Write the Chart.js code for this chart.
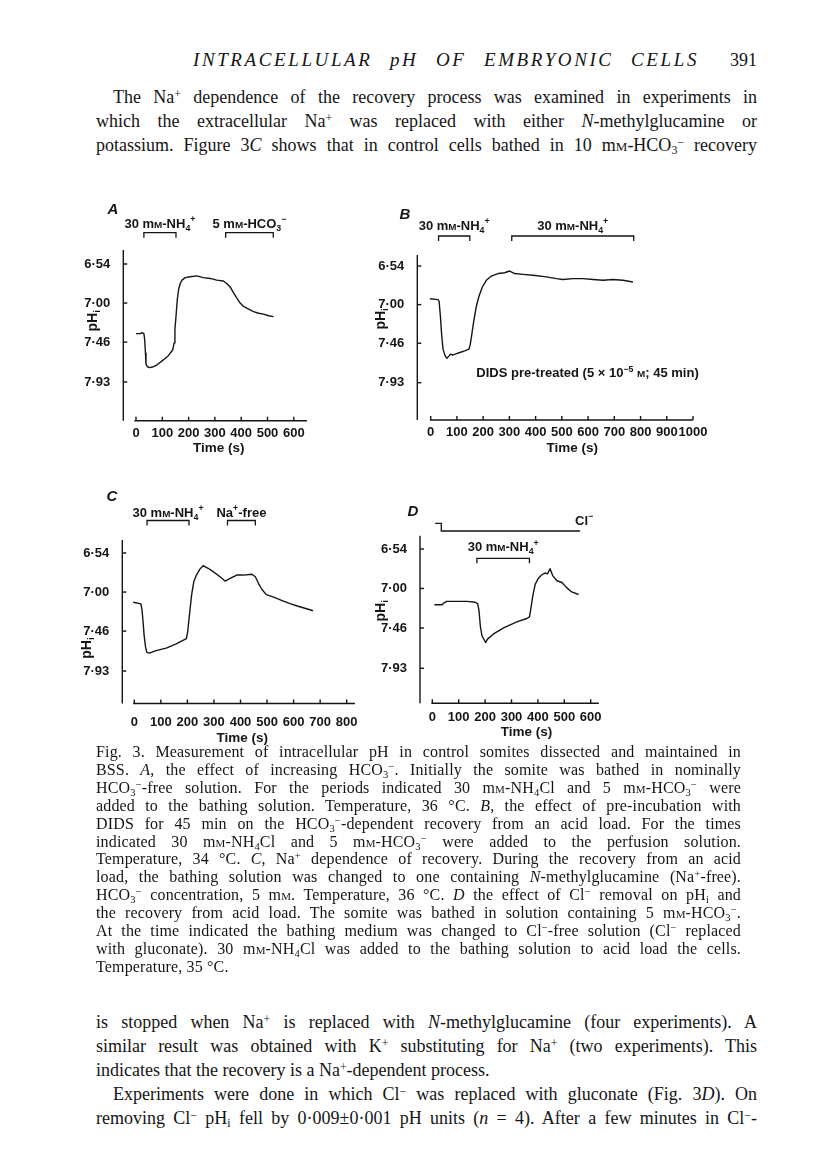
<!DOCTYPE html>
<html>
<head>
<meta charset="utf-8">
<title>Intracellular pH of embryonic cells - Fig. 3</title>
<script src="https://cdn.jsdelivr.net/npm/chart.js@4.4.1/dist/chart.umd.min.js"></script>
<style>
  body { margin: 0; background: #fff; }
  #page { position: relative; width: 816px; height: 1173px; overflow: hidden; color: #151515;
          font-family: "Liberation Serif", "DejaVu Serif", serif; }
  #page canvas { position: absolute; }
  .ln { position: absolute; white-space: nowrap; }
  .body { font-size: 18px; line-height: 24px; }
  .cap { font-size: 16px; line-height: 18px; letter-spacing: 0.15px; }
  .head { font-size: 19px; line-height: 22px; font-style: italic; letter-spacing: 2.6px; }
  .sc { font-variant: small-caps; }
  sub, sup { font-size: 0.66em; line-height: 0; }
  sub { vertical-align: -0.25em; }
  sup { vertical-align: 0.45em; }
</style>
</head>
<body>
<div id="page"></div>
<script>
const INK = '#151515';
const page = document.getElementById('page');

// pH tick values shared by all four panels (axis is inverted: 6.54 at the top)
const yTicks = [6.54, 7.00, 7.46, 7.93];
const yTickLabels = ['6·54', '7·00', '7·46', '7·93'];

// A - effect of HCO3-
const xTicksA = [0, 100, 200, 300, 400, 500, 600];
const timeA = [0, 15, 24, 30, 33, 36, 38, 43, 53, 66, 79, 104, 123, 140, 145, 148, 152, 157, 162, 168,
  175, 187, 206, 231, 256, 282, 307, 332, 345, 358, 371, 383, 396, 409, 421, 434, 447, 466, 485, 504, 523];
const phA = [7.36, 7.36, 7.35, 7.36, 7.43, 7.59, 7.72, 7.75, 7.76, 7.75, 7.73, 7.67, 7.62, 7.55, 7.47, 7.31, 7.16, 6.96, 6.84, 6.77,
  6.73, 6.70, 6.69, 6.68, 6.70, 6.71, 6.73, 6.74, 6.77, 6.81, 6.88, 6.94, 7.00, 7.04, 7.06, 7.08, 7.10, 7.12, 7.13, 7.15, 7.16];
const bracketsA = [[30, 152], [341, 522]];
const labelsA = ['30 m{m}-NH_(4)^(+)', '5 m{m}-HCO_(3)^(−)'];

// B - DIDS pre-treated
const xTicksB = [0, 100, 200, 300, 400, 500, 600, 700, 800, 900, 1000];
const timeB = [-3, 28, 32, 37, 42, 47, 55, 62, 70, 75, 83, 93, 111, 130, 146, 151, 156, 164, 174, 184,
  197, 212, 231, 257, 282, 301, 320, 352, 390, 441, 479, 504, 543, 581, 619, 657, 695, 733, 771];
const phB = [6.93, 6.94, 6.96, 7.14, 7.37, 7.53, 7.61, 7.64, 7.61, 7.59, 7.60, 7.59, 7.57, 7.55, 7.53, 7.47, 7.37, 7.20, 7.02, 6.90,
  6.79, 6.71, 6.66, 6.63, 6.62, 6.60, 6.63, 6.64, 6.65, 6.67, 6.69, 6.70, 6.69, 6.69, 6.70, 6.71, 6.70, 6.71, 6.73];
const bracketsB = [[30, 149], [309, 774]];
const labelsB = ['30 m{m}-NH_(4)^(+)', '30 m{m}-NH_(4)^(+)'];
const noteB = 'DIDS pre-treated (5 × 10^(−5) {m}; 45 min)';

// C - Na+ dependence
const xTicksC = [0, 100, 200, 300, 400, 500, 600, 700, 800];
const timeC = [-4, 25, 29, 33, 37, 42, 47, 57, 82, 120, 158, 196, 201, 209, 216, 224, 234, 247, 259, 278,
  297, 323, 342, 361, 386, 411, 443, 456, 468, 481, 497, 525, 557, 589, 620, 652, 673];
const phC = [7.12, 7.14, 7.21, 7.35, 7.51, 7.64, 7.71, 7.72, 7.69, 7.66, 7.61, 7.55, 7.47, 7.23, 7.03, 6.88, 6.80, 6.73, 6.69, 6.72,
  6.76, 6.82, 6.87, 6.84, 6.80, 6.80, 6.79, 6.82, 6.90, 6.97, 7.03, 7.06, 7.10, 7.14, 7.17, 7.20, 7.22];
const bracketsC = [[48, 206], [351, 456]];
const labelsC = ['30 m{m}-NH_(4)^(+)', 'Na^(+)-free'];

// D - Cl- removal
const xTicksD = [0, 100, 200, 300, 400, 500, 600];
const timeD = [8, 37, 43, 55, 93, 131, 163, 172, 177, 182, 188, 197, 202, 209, 232, 270, 320, 358, 368, 373,
  381, 390, 402, 415, 427, 436, 446, 456, 472, 491, 509, 528, 554];
const phD = [7.19, 7.19, 7.17, 7.15, 7.15, 7.15, 7.16, 7.18, 7.26, 7.44, 7.55, 7.60, 7.63, 7.59, 7.53, 7.46, 7.39, 7.35, 7.33, 7.24,
  7.08, 6.95, 6.88, 6.84, 6.82, 6.83, 6.77, 6.85, 6.91, 6.93, 6.99, 7.04, 7.07];
const bracketsD = [[169, 368]];
const labelsD = ['30 m{m}-NH_(4)^(+)'];
const clTimesD = [11, 34, 34, 560];
const clLevelD = [1, 1, 0, 0];

// where each panel sits on the page
const panels = [
  { time: timeA, ph: phA, xTicks: xTicksA, brackets: bracketsA, labels: labelsA, letter: 'A',
    g: { axisX: 123.3, zeroX: 136, pps: 0.263, lineFrom: -6, xEnd: 650, topY: 250, bottomY: 420.7, y654: 264, y793: 382,
         tickGap: 11.6, titleGap: 26.5, titleAt: 315, letterAt: [113, 210], ylab: [-31, 7.21], brY: 232.7, labY: 223 } },
  { time: timeB, ph: phB, xTicks: xTicksB, brackets: bracketsB, labels: labelsB, letter: 'B', note: noteB,
    g: { axisX: 417.3, zeroX: 430.7, pps: 0.2623, lineFrom: -3, xEnd: 1000, topY: 255, bottomY: 420, y654: 266, y793: 382.7,
         tickGap: 11.7, titleGap: 27.3, titleAt: 540, letterAt: [405, 215], ylab: [-37, 7.17], brY: 236, labY: 225,
         noteAt: [598, 7.81] } },
  { time: timeC, ph: phC, xTicks: xTicksC, brackets: bracketsC, labels: labelsC, letter: 'C',
    g: { axisX: 122.3, zeroX: 134.3, pps: 0.2655, lineFrom: -4, xEnd: 831, topY: 540, bottomY: 703.5, y654: 553, y793: 671,
         tickGap: 18.2, titleGap: 34, titleAt: 407, letterAt: [112, 497], ylab: [-36, 7.66], brY: 520.5, labY: 512 } },
  { time: timeD, ph: phD, xTicks: xTicksD, brackets: bracketsD, labels: labelsD, letter: 'D', cl: true,
    g: { axisX: 420, zeroX: 432.3, pps: 0.264, lineFrom: -3, xEnd: 631, topY: 535.7, bottomY: 703.3, y654: 549, y793: 668.3,
         tickGap: 13.4, titleGap: 27.4, titleAt: 357, letterAt: [413, 512], ylab: [-40, 7.26], brY: 558.3, labY: 546.7,
         clTop: 523.3, clBot: 531, clLabel: [575, 520] } }
];

// text with _(sub), ^(sup) and {smallcaps}
function drawRich(ctx, src, x, y, size, weight, align) {
  const parts = [];
  src.replace(/\^\(([^)]*)\)|_\(([^)]*)\)|\{([^}]*)\}|([^^_{]+)/g, (m, sup, sub, sc, txt) => {
    if (sup !== undefined) parts.push({ t: sup, s: size * 0.68, dy: -size * 0.42 });
    else if (sub !== undefined) parts.push({ t: sub, s: size * 0.68, dy: size * 0.22 });
    else if (sc !== undefined) parts.push({ t: sc.toUpperCase(), s: size * 0.76, dy: 0 });
    else parts.push({ t: txt, s: size, dy: 0 });
    return m;
  });
  let total = 0;
  parts.forEach(p => {
    ctx.font = weight + ' ' + p.s + 'px "Liberation Sans", Arial, sans-serif';
    p.w = ctx.measureText(p.t).width;
    total += p.w;
  });
  let cx = align === 'center' ? x - total / 2 : align === 'right' ? x - total : x;
  const base = y + size * 0.36;
  ctx.textAlign = 'left';
  ctx.textBaseline = 'alphabetic';
  parts.forEach(p => {
    ctx.font = weight + ' ' + p.s + 'px "Liberation Sans", Arial, sans-serif';
    ctx.fillText(p.t, cx, base + p.dy);
    cx += p.w;
  });
}

function makePaper(panel, ox, oy) {
  const g = panel.g;
  return {
    id: 'paper' + panel.letter,
    afterDraw(chart) {
      const { ctx, chartArea: ca, scales: { x, y } } = chart;
      const seg = (x1, y1, x2, y2) => { ctx.beginPath(); ctx.moveTo(x1, y1); ctx.lineTo(x2, y2); ctx.stroke(); };
      ctx.save();
      ctx.strokeStyle = INK;
      ctx.fillStyle = INK;
      ctx.lineWidth = 1.4;
      // y axis with inward ticks
      seg(ca.left, ca.top, ca.left, ca.bottom);
      yTicks.forEach(v => { const py = y.getPixelForValue(v); seg(ca.left, py, ca.left + 4, py); });
      // x axis starts at t = 0, ticks point up, labels below
      seg(x.getPixelForValue(g.lineFrom), ca.bottom, x.getPixelForValue(g.xEnd), ca.bottom);
      panel.xTicks.forEach(v => {
        const px = x.getPixelForValue(v);
        seg(px, ca.bottom, px, ca.bottom - 4);
        drawRich(ctx, String(v), px, ca.bottom + g.tickGap, 13, 'bold', 'center');
      });
      // axis titles
      drawRich(ctx, 'Time (s)', x.getPixelForValue(g.titleAt), ca.bottom + g.titleGap, 13.5, 'bold', 'center');
      ctx.save();
      ctx.translate(ca.left + g.ylab[0], y.getPixelForValue(g.ylab[1]));
      ctx.rotate(-Math.PI / 2);
      drawRich(ctx, 'pH_(i)', 0, 0, 14, 'bold', 'center');
      ctx.restore();
      // panel letter
      ctx.font = 'italic bold 15px "Liberation Sans", Arial, sans-serif';
      ctx.textAlign = 'center';
      ctx.textBaseline = 'middle';
      ctx.fillText(panel.letter, g.letterAt[0] - ox, g.letterAt[1] - oy);
      // solution-change brackets
      ctx.lineWidth = 1.3;
      panel.brackets.forEach((b, i) => {
        const x1 = x.getPixelForValue(b[0]), x2 = x.getPixelForValue(b[1]), yb = g.brY - oy;
        ctx.beginPath();
        ctx.moveTo(x1, yb + 5); ctx.lineTo(x1, yb); ctx.lineTo(x2, yb); ctx.lineTo(x2, yb + 5);
        ctx.stroke();
        drawRich(ctx, panel.labels[i], (x1 + x2) / 2, g.labY - oy, 13, 'bold', 'center');
      });
      if (panel.note) {
        drawRich(ctx, panel.note, x.getPixelForValue(g.noteAt[0]), y.getPixelForValue(g.noteAt[1]), 13, 'bold', 'center');
      }
      if (panel.cl) {
        ctx.beginPath();
        clTimesD.forEach((t, i) => {
          const px = x.getPixelForValue(t);
          const py = (g.clBot - oy) - clLevelD[i] * (g.clBot - g.clTop);
          if (i === 0) ctx.moveTo(px, py); else ctx.lineTo(px, py);
        });
        ctx.stroke();
        drawRich(ctx, 'Cl^(−)', x.getPixelForValue(g.clLabel[0]), g.clLabel[1] - oy, 13, 'bold', 'center');
      }
      ctx.restore();
    }
  };
}

Chart.defaults.font.family = '"Liberation Sans", Arial, sans-serif';
Chart.defaults.color = INK;

panels.forEach(panel => {
  const g = panel.g;
  const pxPerPh = (g.y793 - g.y654) / (7.93 - 6.54);
  const yMin = 6.54 - (g.y654 - g.topY) / pxPerPh;
  const yMax = 7.93 + (g.bottomY - g.y793) / pxPerPh;
  const xMin = -(g.zeroX - g.axisX) / g.pps;
  const chartRight = g.zeroX + g.xEnd * g.pps;

  const cl = Math.round(g.axisX - 50);
  const ct = Math.round(g.topY - 60);
  const cw = Math.ceil(chartRight + 30 - cl);
  const ch = Math.ceil(g.bottomY + 50 - ct);
  const yW = 40;

  const canvas = document.createElement('canvas');
  canvas.width = cw;
  canvas.height = ch;
  canvas.style.left = cl + 'px';
  canvas.style.top = ct + 'px';
  page.appendChild(canvas);

  new Chart(canvas.getContext('2d'), {
    type: 'line',
    data: {
      datasets: [{
        data: panel.time.map((t, i) => ({ x: t, y: panel.ph[i] })),
        borderColor: INK,
        borderWidth: 1.4,
        pointRadius: 0,
        tension: 0,
        borderJoinStyle: 'round'
      }]
    },
    options: {
      responsive: false,
      animation: false,
      events: [],
      layout: { padding: { left: g.axisX - cl - yW, top: g.topY - ct, right: cl + cw - chartRight, bottom: 0 } },
      plugins: { legend: { display: false }, tooltip: { enabled: false } },
      scales: {
        x: {
          type: 'linear', min: xMin, max: g.xEnd,
          grid: { display: false }, border: { display: false },
          afterBuildTicks: s => { s.ticks = panel.xTicks.map(v => ({ value: v })); },
          afterFit: s => { s.height = ct + ch - g.bottomY; },
          ticks: { display: false }
        },
        y: {
          type: 'linear', reverse: true, min: yMin, max: yMax,
          grid: { display: false }, border: { display: false },
          afterBuildTicks: s => { s.ticks = yTicks.map(v => ({ value: v })); },
          afterFit: s => { s.width = yW; },
          ticks: { autoSkip: false, padding: 5, font: { size: 13, weight: 'bold' },
                   callback: v => yTickLabels[yTicks.indexOf(v)] }
        }
      }
    },
    plugins: [makePaper(panel, cl, ct)]
  });
});

// page text
const MM = 'm<span class="sc">m</span>';
const HCO3 = 'HCO<sub>3</sub><sup>−</sup>';
const NA = 'Na<sup>+</sup>';
const CL = 'Cl<sup>−</sup>';

function addLine(html, cls, left, centerY, lh, width) {
  const d = document.createElement('div');
  d.className = 'ln ' + cls;
  d.style.left = left + 'px';
  d.style.top = (centerY - lh / 2) + 'px';
  d.innerHTML = html;
  page.appendChild(d);
  if (width) {
    const nat = d.getBoundingClientRect().width;
    const gaps = (d.textContent.match(/ /g) || []).length;
    if (gaps) d.style.wordSpacing = ((width - nat) / gaps) + 'px';
  }
  return d;
}

addLine('INTRACELLULAR <span style="text-transform:none">pH</span> OF EMBRYONIC CELLS', 'head', 193, 60, 22, 506);
const pn = addLine('391', 'body', 0, 60, 24);
pn.style.left = (757 - pn.getBoundingClientRect().width) + 'px';

const para1 = [
  [`The ${NA} dependence of the recovery process was examined in experiments in`, 113, 644],
  [`which the extracellular ${NA} was replaced with either <i>N</i>-methylglucamine or`, 96, 661],
  [`potassium. Figure 3<i>C</i> shows that in control cells bathed in 10 ${MM}-${HCO3} recovery`, 96, 661]
];
para1.forEach((l, i) => addLine(l[0], 'body', l[1], 97 + 24 * i, 24, l[2]));

const caption = [
  `Fig. 3. Measurement of intracellular pH in control somites dissected and maintained in`,
  `BSS. <i>A</i>, the effect of increasing ${HCO3}. Initially the somite was bathed in nominally`,
  `${HCO3}-free solution. For the periods indicated 30 ${MM}-NH<sub>4</sub>Cl and 5 ${MM}-${HCO3} were`,
  `added to the bathing solution. Temperature, 36 °C. <i>B</i>, the effect of pre-incubation with`,
  `DIDS for 45 min on the ${HCO3}-dependent recovery from an acid load. For the times`,
  `indicated 30 ${MM}-NH<sub>4</sub>Cl and 5 ${MM}-${HCO3} were added to the perfusion solution.`,
  `Temperature, 34 °C. <i>C</i>, ${NA} dependence of recovery. During the recovery from an acid`,
  `load, the bathing solution was changed to one containing <i>N</i>-methylglucamine (${NA}-free).`,
  `${HCO3} concentration, 5 ${MM}. Temperature, 36 °C. <i>D</i> the effect of ${CL} removal on pH<sub>i</sub> and`,
  `the recovery from acid load. The somite was bathed in solution containing 5 ${MM}-${HCO3}.`,
  `At the time indicated the bathing medium was changed to ${CL}-free solution (${CL} replaced`,
  `with gluconate). 30 ${MM}-NH<sub>4</sub>Cl was added to the bathing solution to acid load the cells.`,
  `Temperature, 35 °C.`
];
caption.forEach((l, i) => addLine(l, 'cap', 96, 752 + 17.9 * i, 18, i < caption.length - 1 ? 645 : 0));

const para2 = [
  [`is stopped when ${NA} is replaced with <i>N</i>-methylglucamine (four experiments). A`, 96, 661],
  [`similar result was obtained with K<sup>+</sup> substituting for ${NA} (two experiments). This`, 96, 661],
  [`indicates that the recovery is a ${NA}-dependent process.`, 96, 0],
  [`Experiments were done in which ${CL} was replaced with gluconate (Fig. 3<i>D</i>). On`, 113, 644],
  [`removing ${CL} pH<sub>i</sub> fell by 0·009±0·001 pH units (<i>n</i> = 4). After a few minutes in ${CL}-`, 96, 661]
];
para2.forEach((l, i) => addLine(l[0], 'body', l[1], 1022 + 24 * i, 24, l[2]));
</script>
</body>
</html>
